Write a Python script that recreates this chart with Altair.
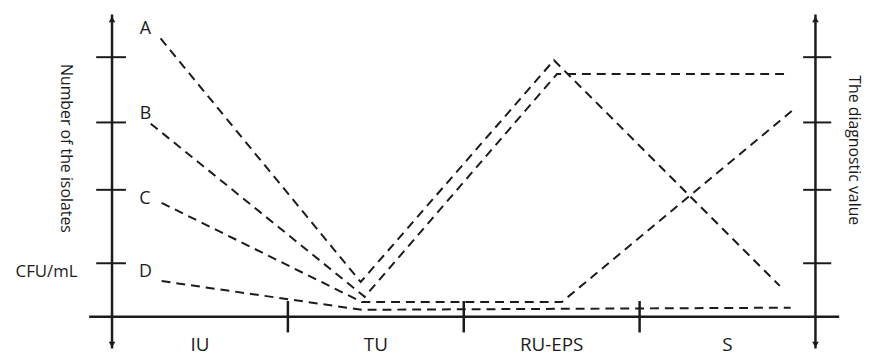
import altair as alt
import pandas as pd

# ---------------- data ----------------
stages = ["IU", "TU", "RU-EPS", "S"]
series_names = ["A", "B", "C", "D"]

# positions on the stage scale (0..4, one unit per stage band) and values (0..100)
A_x = [0.276, 1.414, 2.513, 3.797]
A_y = [92.1, 11.5, 84.9, 10.2]
B_x = [0.22, 1.437, 2.53, 3.854]
B_y = [63.9, 6.6, 80.3, 80.3]
C_x = [0.282, 1.42, 2.558, 3.882]
C_y = [37.7, 4.9, 4.9, 68.9]
D_x = [0.282, 1.42, 3.859]
D_y = [11.8, 2.3, 3.0]

tick_levels = [17.7, 42.0, 64.3, 85.9]
stage_boundaries = [1, 2, 3]

left_title = "Number of the isolates"
unit_label = "CFU/mL"
right_title = "The diagnostic value"

# ---------------- tables ----------------
rows = []
for name, xs, ys in zip(series_names, [A_x, B_x, C_x, D_x], [A_y, B_y, C_y, D_y]):
    for i, (xv, yv) in enumerate(zip(xs, ys)):
        rows.append({"series": name, "x": xv, "y": yv, "order": i})
lines_df = pd.DataFrame(rows)

letters_df = pd.DataFrame({
    "series": series_names,
    "x": [0.19, 0.19, 0.186, 0.19],
    "y": [95.1, 67.2, 39.0, 14.8],
})

stage_df = pd.DataFrame({"stage": stages, "x": [i + 0.5 for i in range(len(stages))], "y": -9.5})

FONT = "Open Sans"
INK = "#1b1b1b"

xs = alt.Scale(domain=[0, 4], nice=False, zero=False)
ys = alt.Scale(domain=[0, 100], nice=False, zero=False)


def X(f="x"):
    return alt.X(f"{f}:Q", scale=xs, axis=None)


def Y(f="y"):
    return alt.Y(f"{f}:Q", scale=ys, axis=None)


# axis frame
xaxis = alt.Chart(pd.DataFrame({"x": [-0.13], "x2": [4.135], "y": [0]})).mark_rule(
    color=INK, strokeWidth=2.5
).encode(x=X(), x2="x2:Q", y=Y())

vaxes = alt.Chart(pd.DataFrame({"x": [0, 4], "y": [-10.5, -10.5], "y2": [100, 100]})).mark_rule(
    color=INK, strokeWidth=2.5
).encode(x=X(), y=Y(), y2="y2:Q")

arrows = alt.Chart(pd.DataFrame({
    "x": [0, 0, 4, 4],
    "y": [98.4, -9.2, 98.4, -9.2],
    "shape": ["triangle-up", "triangle-down", "triangle-up", "triangle-down"],
})).mark_point(filled=True, color=INK, size=45, opacity=1).encode(
    x=X(), y=Y(), shape=alt.Shape("shape:N", scale=None)
)

tick_rows = []
for lv in tick_levels:
    tick_rows.append({"x": -0.09, "x2": 0.079, "y": lv})
    tick_rows.append({"x": 3.93, "x2": 4.09, "y": lv})
yticks = alt.Chart(pd.DataFrame(tick_rows)).mark_rule(color=INK, strokeWidth=2).encode(
    x=X(), x2="x2:Q", y=Y()
)

xticks = alt.Chart(pd.DataFrame({"x": stage_boundaries, "y": [5.2] * 3, "y2": [-5.2] * 3})).mark_rule(
    color=INK, strokeWidth=2.5
).encode(x=X(), y=Y(), y2="y2:Q")

stage_labels = alt.Chart(stage_df).mark_text(
    font=FONT, fontSize=19, color=INK, align="center", baseline="middle"
).encode(x=X(), y=Y(), text="stage:N")

# series
lines = alt.Chart(lines_df).mark_line(
    color=INK, strokeWidth=2, strokeDash=[9, 6]
).encode(x=X(), y=Y(), detail="series:N", order="order:Q")

letters = alt.Chart(letters_df).mark_text(
    font=FONT, fontSize=18, color=INK, align="center", baseline="middle"
).encode(x=X(), y=Y(), text="series:N")

# titles
titles_rot = alt.Chart(pd.DataFrame({
    "x": [-0.262, 4.22], "y": [55.7, 55.1], "t": [left_title, right_title]
})).mark_text(
    font=FONT, fontSize=16, color=INK, angle=90, align="center", baseline="middle"
).encode(x=X(), y=Y(), text="t:N")

unit = alt.Chart(pd.DataFrame({"x": [-0.372], "y": [14.75], "t": [unit_label]})).mark_text(
    font=FONT, fontSize=17, color=INK, align="center", baseline="middle"
).encode(x=X(), y=Y(), text="t:N")

chart = alt.layer(
    xaxis, vaxes, arrows, yticks, xticks, stage_labels, lines, letters, titles_rot, unit
).properties(
    width=710,
    height=305,
    autosize=alt.AutoSizeParams(type="none"),
    padding={"left": 105, "top": 5, "right": 49, "bottom": 39},
    background="white",
).configure_view(stroke=None)

chart.save("out.html", embed_options={"renderer": "svg", "actions": False})
